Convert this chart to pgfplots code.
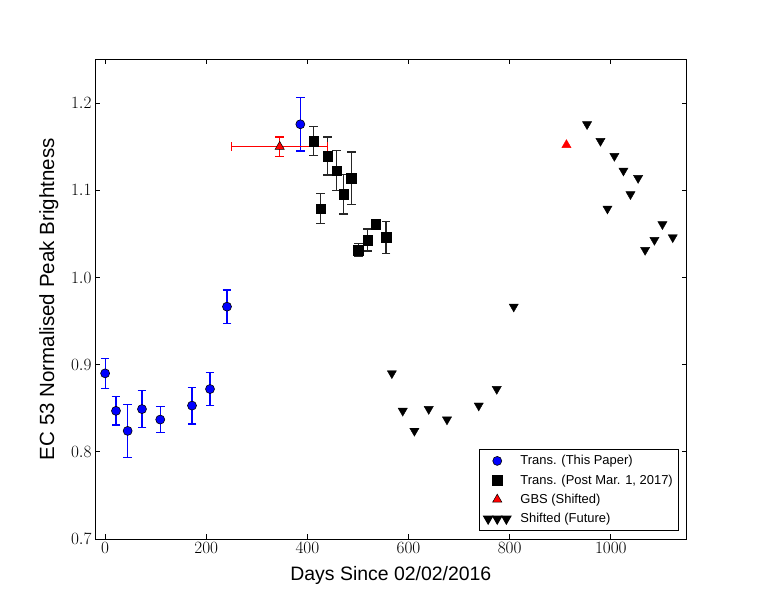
\documentclass[border=0pt]{standalone}
\usepackage{fontspec}
\setmainfont{Liberation Sans}
\usepackage{pgfplots}
\pgfplotsset{compat=1.18}
\pgfplotsset{
  threetri/.style={legend image code/.code={\path[draw=none, fill=none] (0bp,-4bp) rectangle (24bp,4bp);\draw[mark=triangle*, mark size=5.3bp, mark options={fill=black, draw=black, rotate=180}, only marks] plot coordinates {(2.9bp,0bp) (12bp,0bp) (21.1bp,0bp)};}},
  onemark/.style={legend image code/.code={\path[draw=none, fill=none] (0bp,-4bp) rectangle (24bp,4bp);\draw[##1, only marks] plot coordinates {(12bp,0bp)};}},
}
\begin{document}
\begin{tikzpicture}
\path[use as bounding box] (0,0) rectangle (763bp,599bp);
\begin{axis}[
  at={(95bp,60bp)}, anchor=south west,
  width=591.7bp, height=479.5bp, scale only axis,
  xmin=-20, xmax=1150, ymin=0.7, ymax=1.25,
  xtick={0,200,400,600,800,1000},
  ytick={0.7,0.8,0.9,1.0,1.1,1.2},
  tick align=inside, tick pos=both,
  major tick length=4.7bp,
  every tick/.style={black, line width=0.8bp},
  axis line style={line width=1bp},
  ticklabel style={font=\fontsize{19}{22}\selectfont},
  xticklabel style={/pgf/number format/1000 sep={}},
  yticklabel style={/pgf/number format/.cd, fixed, fixed zerofill, precision=1},
  xlabel={Days Since 02/02/2016},
  ylabel={EC 53 Normalised Peak Brightness},
  every axis x label/.style={at={(axis description cs:0.5,0)}, anchor=base, yshift=-41bp, font=\fontsize{19.5}{23}\selectfont},
  every axis y label/.style={at={(axis description cs:0,0.5)}, xshift=-41bp, rotate=90, anchor=base, font=\fontsize{20.6}{24}\selectfont},
  legend style={at={(1,0)}, anchor=south east, xshift=-7.4bp, yshift=8.3bp,
    font=\fontsize{13}{15}\selectfont, draw=black, line width=1bp,
    inner xsep=4.5bp, inner ysep=4.5bp, row sep=5.4bp, column sep=8bp,
    nodes={inner sep=1.5bp}},
  legend cell align=left,
]
\addplot[only marks, mark=*, mark size=4.5bp, mark options={fill=blue, draw=black, line width=0.6bp}, onemark,
  error bars/.cd, y dir=both, y explicit,
  error bar style={line width=1.2bp, blue},
  error mark options={mark size=4.3bp, line width=1.2bp, blue, rotate=90}]
coordinates {
(0, 0.890) +- (0, 0.017)
(21.5, 0.847) +- (0, 0.0163)
(44.6, 0.824) +- (0, 0.0307)
(72.9, 0.849) +- (0, 0.021)
(109, 0.837) +- (0, 0.0147)
(171.8, 0.853) +- (0, 0.021)
(207.4, 0.872) +- (0, 0.019)
(241, 0.9665) +- (0, 0.019)
(386, 1.1757) +- (0, 0.0306)
};
\addlegendentry{Trans. (This Paper)}
\addplot[only marks, mark=square*, mark size=4.8bp, mark options={fill=black, draw=black}, onemark,
  error bars/.cd, y dir=both, y explicit,
  error bar style={line width=1.2bp, black!85},
  error mark options={mark size=4.3bp, line width=1.2bp, black!85, rotate=90}]
coordinates {
(412.5, 1.1565) +- (0, 0.0164)
(426.3, 1.0789) +- (0, 0.0174)
(440, 1.1393) +- (0, 0.0218)
(457.9, 1.1225) +- (0, 0.023)
(471.8, 1.0954) +- (0, 0.0226)
(486.9, 1.114) +- (0, 0.030)
(500.8, 1.0315) +- (0, 0.0077)
(519.2, 1.043) +- (0, 0.0126)
(535, 1.061) +- (0, 0.005)
(555.4, 1.046) +- (0, 0.0186)
};
\addlegendentry{Trans. (Post Mar. 1, 2017)}
\addplot[only marks, mark=triangle*, mark size=5.3bp, mark options={fill=red, draw=black, line width=0.5bp}, onemark,
  error bars/.cd, y dir=both, y explicit, x dir=both, x explicit,
  error bar style={line width=1.2bp, red},
  error mark options={mark size=4.3bp, line width=1.2bp, red, rotate=90}]
coordinates {
(345.2, 1.150) +- (95, 0.011)
};
\addlegendentry{GBS (Shifted)}
\addplot[only marks, mark=triangle*, mark size=5.3bp, mark options={fill=black, draw=black, rotate=180}, threetri]
coordinates {
(567, 0.890) (588.5, 0.847) (611.6, 0.824) (639.9, 0.849) (676, 0.837)
(738.8, 0.853) (774.4, 0.872) (808, 0.9665) (953, 1.1757)
(979.5, 1.1565) (993.3, 1.0789) (1007, 1.1393) (1024.9, 1.1225) (1038.8, 1.0954)
(1053.9, 1.114) (1067.8, 1.0315) (1086.2, 1.043) (1102, 1.061) (1122.4, 1.046)
};
\addlegendentry{Shifted (Future)}
\addplot[only marks, mark=triangle*, mark size=5.3bp, mark options={fill=red, draw=red}, forget plot]
coordinates {(912.2, 1.152)};
\end{axis}
\end{tikzpicture}
\end{document}
